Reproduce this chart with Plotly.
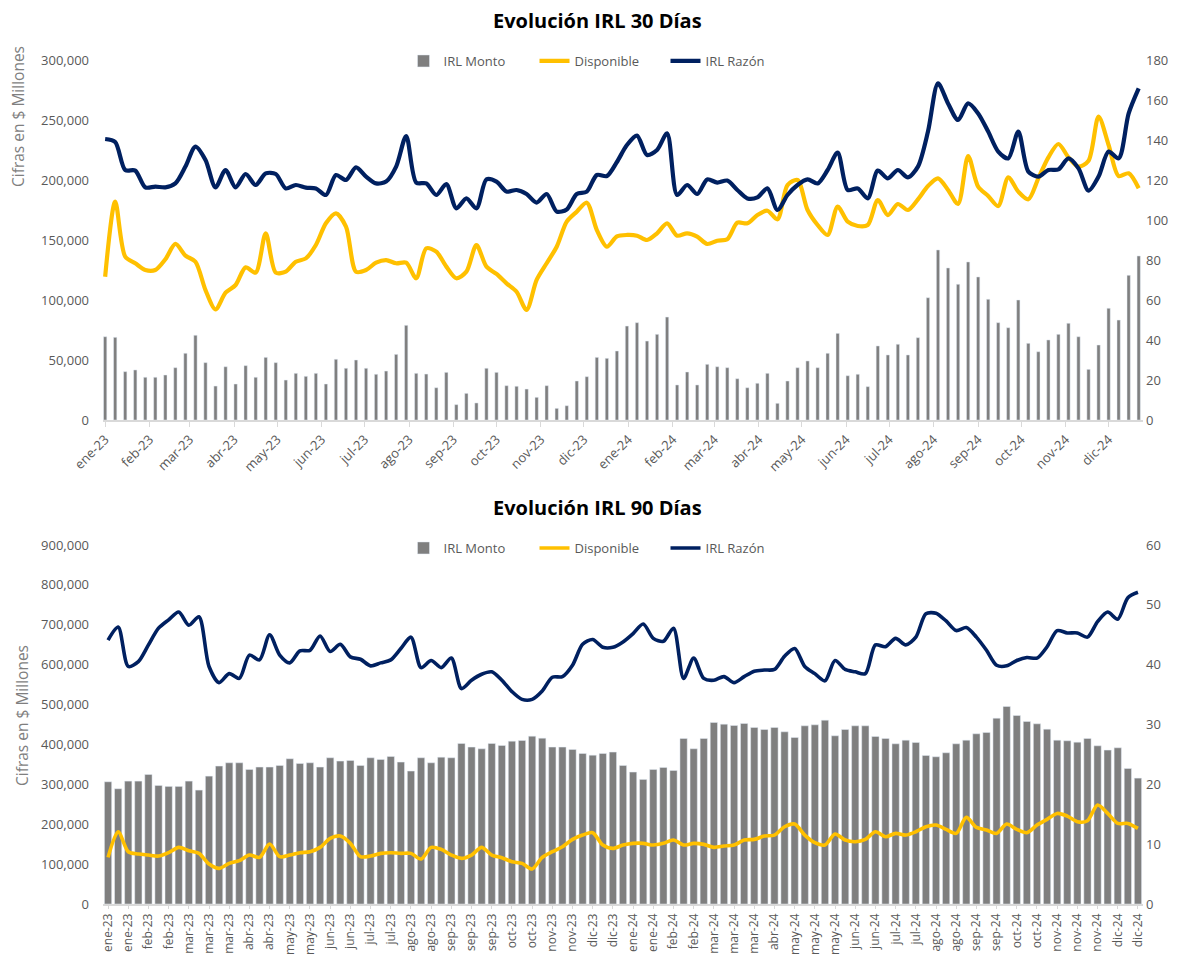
import pandas as pd
import plotly.graph_objects as go

# ---------------- Data: IRL 30 días (weekly, 104 points) ----------------
FECHA_INICIO_30 = "2023-01-01"
N_30 = 104
MESES = ["ene", "feb", "mar", "abr", "may", "jun", "jul", "ago", "sep", "oct", "nov", "dic"]

monto_30 = [69400, 68900, 40300, 41700, 35600, 35600, 37500, 43600, 55600, 70600,
            47800, 28300, 44400, 30000, 45300, 35600, 52200, 47800, 33300, 38900,
            36400, 38900, 30000, 50600, 43100, 50000, 43100, 38100, 40800, 54700,
            78900, 38900, 38300, 26900, 39700, 12800, 22200, 14200, 43100, 39700,
            28600, 28100, 25800, 18900, 28600, 9700, 11900, 32500, 36100, 52200,
            51400, 57500, 78300, 81100, 65800, 71400, 85800, 29200, 40000, 29200,
            46400, 44400, 43600, 34400, 26900, 30600, 38900, 13900, 32500, 43600,
            49200, 43600, 55600, 72200, 36900, 38100, 27800, 61700, 54200, 63100,
            54200, 68600, 101900, 141700, 126700, 113100, 131700, 119200, 100600, 81100,
            76900, 100000, 63900, 56900, 66700, 71400, 80600, 69400, 42200, 62500,
            93100, 83300, 120600, 136700]

disponible_30 = [119400, 182000, 136100, 130600, 125000, 125000, 133900, 146700, 137000, 131900,
                 108300, 92200, 106100, 112500, 127200, 122800, 155600, 122800, 123600, 131900,
                 134700, 145800, 163900, 172200, 161100, 123600, 125000, 131100, 133300, 130600,
                 131100, 118100, 143100, 140300, 127800, 118100, 123600, 145800, 127800, 121700,
                 113900, 106900, 91700, 116700, 130600, 144400, 165300, 173600, 181100, 158300,
                 144400, 153000, 154200, 153600, 150000, 155600, 163900, 153600, 155600, 152800,
                 146700, 149400, 150600, 164400, 163900, 170800, 174400, 167200, 195800, 200000,
                 175000, 162500, 154200, 177800, 165300, 161700, 162500, 183300, 170800, 180000,
                 175000, 183900, 195000, 201400, 191700, 180000, 220000, 194400, 186700, 178300,
                 202200, 190300, 183900, 201400, 218900, 230000, 218900, 211100, 216100, 252800,
                 229200, 203300, 205600, 193100]

razon_30 = [140.5, 139, 125, 124.7, 116.3, 116.7, 116.3, 118.3, 126.7, 136.7,
            130, 116.3, 125, 116.3, 123, 117.5, 123.3, 123, 115.8, 117.5,
            116.2, 115.8, 112.5, 122.5, 120, 126.3, 121.7, 118.3, 119.2, 126.7,
            142, 118.7, 118.3, 112.5, 118, 105.8, 110.8, 105.8, 120.3, 119.2,
            114.2, 115, 113, 108.7, 113, 104.2, 105.3, 113, 114.2, 122.5,
            122, 129, 137.5, 142.2, 132.5, 135, 143.3, 112.5, 117.5, 113,
            120.3, 118.7, 119.7, 115, 110.8, 111.3, 115.8, 105, 112.5, 117.5,
            120.3, 118.3, 125, 133.7, 115, 115.8, 110.8, 124.7, 120.8, 125,
            121.3, 126.7, 144.2, 168.3, 158.3, 150, 158.3, 153.3, 144.2, 134.2,
            130.8, 144.2, 124.2, 121.7, 125, 125.3, 130.8, 125.8, 114.7, 121.7,
            134.2, 130.8, 153.3, 165.8]

# ---------------- Data: IRL 90 días (weekly, 103 categories) ----------------
monto_90 = [306400, 288900, 308100, 308100, 324800, 297300, 294800, 294800, 308100, 285600,
            320600, 345700, 354000, 354000, 337300, 343200, 343200, 347400, 364100, 352400,
            354000, 343200, 366600, 358200, 359900, 347400, 366600, 362400, 369900, 355700,
            333200, 366600, 354000, 368200, 366600, 402500, 393300, 389100, 402500, 397500,
            408300, 410000, 420800, 415800, 393300, 393300, 387400, 377400, 373200, 377400,
            380800, 347400, 330700, 312300, 337300, 342400, 334800, 415000, 389100, 415000,
            455100, 450900, 447600, 452600, 442600, 437500, 442600, 431700, 417500, 446700,
            449200, 460900, 421700, 437500, 446700, 446700, 420000, 415000, 401600, 410800,
            405000, 372400, 369100, 379100, 401600, 410800, 426700, 430000, 465900, 495200,
            472600, 457600, 451700, 438400, 410800, 409200, 405800, 415000, 396600, 385800,
            391600, 339800, 315600]

disponible_90 = [116900, 181200, 131100, 125300, 122700, 120200, 128600, 142000, 133600, 126900,
                 100200, 89300, 101900, 108600, 122700, 116900, 150300, 118600, 122700, 128600,
                 131100, 142000, 164500, 170300, 152000, 118600, 120200, 126900, 128600, 126900,
                 126900, 112700, 142000, 136900, 122700, 114400, 122700, 142000, 122700, 116100,
                 106000, 101900, 87700, 116900, 131100, 143600, 162000, 172800, 178700, 147800,
                 139400, 147800, 152000, 152000, 147800, 152000, 160300, 147800, 152000, 149500,
                 142000, 145300, 147800, 160300, 162000, 170300, 172800, 193700, 200400, 172800,
                 153600, 147800, 175400, 160300, 156100, 162000, 181200, 168700, 177000, 172800,
                 181200, 193700, 197900, 187000, 177000, 217100, 192000, 185400, 177000, 200400,
                 187000, 178700, 197900, 212100, 227100, 220400, 206200, 208800, 248000, 227100,
                 202100, 202100, 189500]

razon_90 = [44.1, 46.3, 39.7, 40.5, 43.3, 46.1, 47.5, 48.8, 46.6, 48.0,
            39.7, 37.0, 38.5, 37.7, 41.6, 40.8, 45.0, 41.6, 40.3, 42.3,
            42.4, 44.8, 42.2, 43.4, 41.3, 40.9, 39.8, 40.3, 40.8, 42.7,
            44.6, 39.5, 40.7, 39.5, 41.1, 36.0, 37.4, 38.4, 38.8, 37.4,
            35.5, 34.2, 34.2, 35.6, 37.9, 38.0, 39.9, 43.4, 44.2, 42.9,
            42.9, 43.8, 45.2, 46.8, 44.4, 43.9, 46.1, 37.7, 41.1, 37.7,
            37.4, 38.0, 37.0, 38.0, 38.9, 39.1, 39.2, 41.4, 42.7, 39.7,
            38.5, 37.3, 40.7, 39.2, 38.8, 38.5, 43.3, 43.0, 44.4, 43.3,
            44.6, 48.5, 48.6, 47.3, 45.7, 46.2, 44.6, 42.4, 39.9, 39.8,
            40.7, 41.2, 41.1, 43.0, 45.7, 45.3, 45.3, 44.6, 47.2, 48.8,
            47.6, 51.2, 52.1]

# tick labels of the 90-day category axis (shown every second week)
etiquetas_90 = ["ene-23", "ene-23", "feb-23", "feb-23", "mar-23", "mar-23", "mar-23", "abr-23", "abr-23",
                "may-23", "may-23", "jun-23", "jun-23", "jul-23", "jul-23", "ago-23", "ago-23",
                "sep-23", "sep-23", "sep-23", "oct-23", "oct-23", "nov-23", "nov-23", "dic-23", "dic-23",
                "ene-24", "ene-24", "feb-24", "feb-24", "mar-24", "mar-24", "mar-24", "abr-24",
                "may-24", "may-24", "may-24", "jun-24", "jun-24", "jul-24", "jul-24", "ago-24", "ago-24",
                "sep-24", "sep-24", "oct-24", "oct-24", "nov-24", "nov-24", "nov-24", "dic-24", "dic-24"]

# ---------------- Derived x values ----------------
fechas_30 = pd.date_range(FECHA_INICIO_30, periods=N_30, freq="7D")
meses_ticks = pd.date_range("2023-01-01", "2024-12-01", freq="MS")
ticktext_30 = [f"{MESES[d.month - 1]}-{d.year % 100:02d}" for d in meses_ticks]
x_90 = list(range(len(monto_90)))
tickvals_90 = x_90[::2]

# ---------------- Styles ----------------
GRIS = "#7f7f7f"
AMARILLO = "#FFC000"
AZUL = "#002060"
TXT = "#595959"
FONT = "Open Sans"
W, H = 1192, 956
L, R = 103, 49
PW = W - L - R


def py(canvas_y):
    return 1 - canvas_y / H


def px(canvas_x):
    return (canvas_x - L) / PW


fig = go.Figure()

# ---- top chart ----
DAY_MS = 86400000
fig.add_trace(go.Bar(x=fechas_30, y=monto_30, name="IRL Monto", marker_color=GRIS,
                     width=2.3 * DAY_MS, xaxis="x", yaxis="y", legend="legend"))
fig.add_trace(go.Scatter(x=fechas_30, y=disponible_30, name="Disponible", mode="lines",
                         line=dict(color=AMARILLO, width=4.2, shape="spline", smoothing=0.8),
                         xaxis="x", yaxis="y", legend="legend"))
fig.add_trace(go.Scatter(x=fechas_30, y=razon_30, name="IRL Razón", mode="lines",
                         line=dict(color=AZUL, width=4.2, shape="spline", smoothing=0.8),
                         xaxis="x", yaxis="y2", legend="legend"))

# ---- bottom chart ----
fig.add_trace(go.Bar(x=x_90, y=monto_90, name="IRL Monto", marker_color=GRIS,
                     width=0.72, xaxis="x2", yaxis="y3", legend="legend2"))
fig.add_trace(go.Scatter(x=x_90, y=disponible_90, name="Disponible", mode="lines",
                         line=dict(color=AMARILLO, width=3.6, shape="spline", smoothing=0.8),
                         xaxis="x2", yaxis="y3", legend="legend2"))
fig.add_trace(go.Scatter(x=x_90, y=razon_90, name="IRL Razón", mode="lines",
                         line=dict(color=AZUL, width=3.6, shape="spline", smoothing=0.8),
                         xaxis="x2", yaxis="y4", legend="legend2"))

tickfont = dict(family=FONT, size=13, color=TXT)
axis_common = dict(showgrid=False, zeroline=False)

top_dom = [py(420), py(60)]
bot_dom = [py(904), py(545)]

legend_common = dict(orientation="h", xanchor="center", yanchor="middle",
                     font=dict(family=FONT, size=13, color=TXT), bgcolor="rgba(0,0,0,0)",
                     traceorder="normal", entrywidth=86, entrywidthmode="pixels")

fig.update_layout(
    width=W, height=H,
    margin=dict(l=L, r=R, t=0, b=0, autoexpand=False),
    paper_bgcolor="white", plot_bgcolor="white",
    font=dict(family=FONT, color=TXT),
    barmode="overlay",
    xaxis=dict(domain=[0, 1], anchor="y", type="date",
               range=[fechas_30[0] - pd.Timedelta(days=1.5), fechas_30[-1] + pd.Timedelta(days=3)],
               tickvals=list(meses_ticks), ticktext=ticktext_30, tickangle=-45,
               showline=True, linecolor="#d9d9d9", linewidth=1.5, tickfont=tickfont,
               ticks="outside", ticklen=5, tickcolor="#d9d9d9", **axis_common),
    yaxis=dict(domain=top_dom, anchor="x", range=[0, 300000], dtick=50000, tickformat=",",
               ticklabelstandoff=13, tickfont=tickfont, **axis_common),
    yaxis2=dict(overlaying="y", side="right", anchor="x", range=[0, 180], dtick=20,
                ticklabelstandoff=2, tickfont=tickfont, **axis_common),
    xaxis2=dict(domain=[0, 1], anchor="y3", range=[-0.5, len(x_90) - 0.5],
                tickvals=tickvals_90, ticktext=etiquetas_90, tickangle=-90,
                showline=True, linecolor="#d9d9d9", linewidth=1.5,
                tickfont=dict(family=FONT, size=12, color=TXT),
                ticks="outside", ticklen=3, tickcolor="#d9d9d9", **axis_common),
    yaxis3=dict(domain=bot_dom, anchor="x2", range=[0, 900000], dtick=100000, tickformat=",",
                ticklabelstandoff=13, tickfont=tickfont, **axis_common),
    yaxis4=dict(overlaying="y3", side="right", anchor="x2", range=[0, 60], dtick=10,
                ticklabelstandoff=2, tickfont=tickfont, **axis_common),
    legend=dict(x=px(600), y=py(61), **legend_common),
    legend2=dict(x=px(600), y=py(548), **legend_common),
    showlegend=True,
)

ann_title = dict(family=FONT, size=20, color="black")
fig.add_annotation(text="<b>Evolución IRL 30 Días</b>", xref="paper", yref="paper",
                   x=px(597), y=py(21), showarrow=False, font=ann_title,
                   xanchor="center", yanchor="middle")
fig.add_annotation(text="<b>Evolución IRL 90 Días</b>", xref="paper", yref="paper",
                   x=px(597), y=py(507), showarrow=False, font=ann_title,
                   xanchor="center", yanchor="middle")
ytitle_font = dict(family=FONT, size=15.5, color=GRIS)
fig.add_annotation(text="Cifras en $ Millones", xref="paper", yref="paper",
                   x=px(18), y=py(117), showarrow=False, textangle=-90, font=ytitle_font,
                   xanchor="center", yanchor="middle")
fig.add_annotation(text="Cifras en $ Millones", xref="paper", yref="paper",
                   x=px(22), y=py(716), showarrow=False, textangle=-90, font=ytitle_font,
                   xanchor="center", yanchor="middle")

fig.write_html("out.html", config={"displayModeBar": False},
               post_script="document.body.style.margin='0px';")
